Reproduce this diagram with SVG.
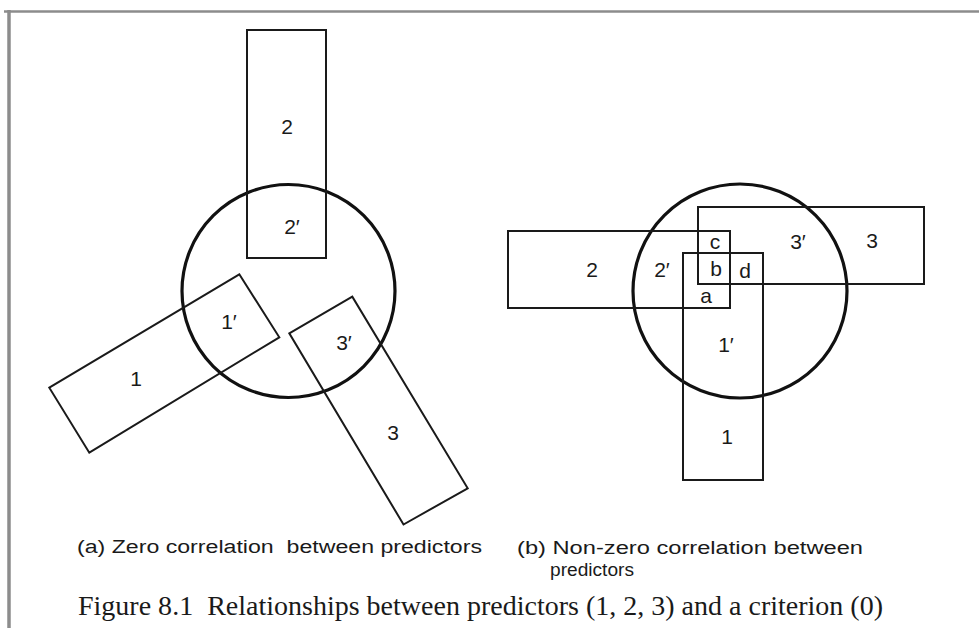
<svg xmlns="http://www.w3.org/2000/svg" width="979" height="628" viewBox="0 0 979 628">
<style>
.bg{fill:#ffffff}
.frame{stroke:#8c8c8c;fill:none}
.box{fill:none;stroke:#1a1a1a;stroke-width:2;stroke-linejoin:miter}
.crit{fill:none;stroke:#111;stroke-width:3.2}
.lbl{font-family:"Liberation Sans",Arial,sans-serif;font-size:21px;fill:#1a1a1a;text-anchor:middle}
.cap{font-family:"Liberation Sans",Arial,sans-serif;font-size:18px;fill:#1a1a1a}
.fig{font-family:"Liberation Serif","Times New Roman",serif;font-size:27px;fill:#1a1a1a}
</style>
<rect class="bg" x="0" y="0" width="979" height="628"/>
<g id="frame">
<line class="frame" x1="4" y1="11.5" x2="979" y2="11.5" stroke-width="2.5"/>
<line class="frame" x1="9" y1="10" x2="9" y2="628" stroke-width="3.5"/>
</g>

<!-- (a) Zero correlation -->
<g id="a-criterion">
<circle class="crit" cx="288.5" cy="291" r="106.5"/>
</g>
<g id="a-predictor-2">
<rect class="box" x="247" y="30" width="79" height="228"/>
<text class="lbl" x="287" y="134">2</text>
<text class="lbl" x="292" y="234">2′</text>
</g>
<g id="a-predictor-1">
<polygon class="box" points="239.3,274.3 279.3,337.3 89.3,452.7 49.3,387.7"/>
<text class="lbl" x="136" y="386">1</text>
<text class="lbl" x="229" y="329">1′</text>
</g>
<g id="a-predictor-3">
<polygon class="box" points="352.3,296.7 289.3,333.3 403.5,524.5 467.7,488.3"/>
<text class="lbl" x="344" y="350">3′</text>
<text class="lbl" x="393" y="440">3</text>
</g>

<!-- (b) Non-zero correlation -->
<g id="b-criterion">
<circle class="crit" cx="740" cy="291" r="107"/>
</g>
<g id="b-predictor-2">
<rect class="box" x="508" y="231" width="222" height="77"/>
<text class="lbl" x="592" y="277">2</text>
<text class="lbl" x="662" y="277">2′</text>
</g>
<g id="b-predictor-3">
<rect class="box" x="698" y="207" width="226" height="77"/>
<text class="lbl" x="798" y="249">3′</text>
<text class="lbl" x="872" y="248">3</text>
</g>
<g id="b-predictor-1">
<rect class="box" x="683" y="253" width="80" height="227"/>
<text class="lbl" x="726" y="352">1′</text>
<text class="lbl" x="727" y="444">1</text>
</g>
<g id="b-overlaps">
<text class="lbl" x="715" y="249">c</text>
<text class="lbl" x="716" y="276">b</text>
<text class="lbl" x="745" y="278">d</text>
<text class="lbl" x="706" y="303">a</text>
</g>

<g id="captions">
<text class="cap" x="77" y="553" textLength="405" lengthAdjust="spacingAndGlyphs" xml:space="preserve">(a) Zero correlation  between predictors</text>
<text class="cap" x="517" y="554" textLength="346" lengthAdjust="spacingAndGlyphs">(b) Non-zero correlation between</text>
<text class="cap" x="550" y="576" textLength="84" lengthAdjust="spacingAndGlyphs">predictors</text>
<text class="fig" x="78" y="615" textLength="805" lengthAdjust="spacingAndGlyphs" xml:space="preserve">Figure 8.1  Relationships between predictors (1, 2, 3) and a criterion (0)</text>
</g>
</svg>
